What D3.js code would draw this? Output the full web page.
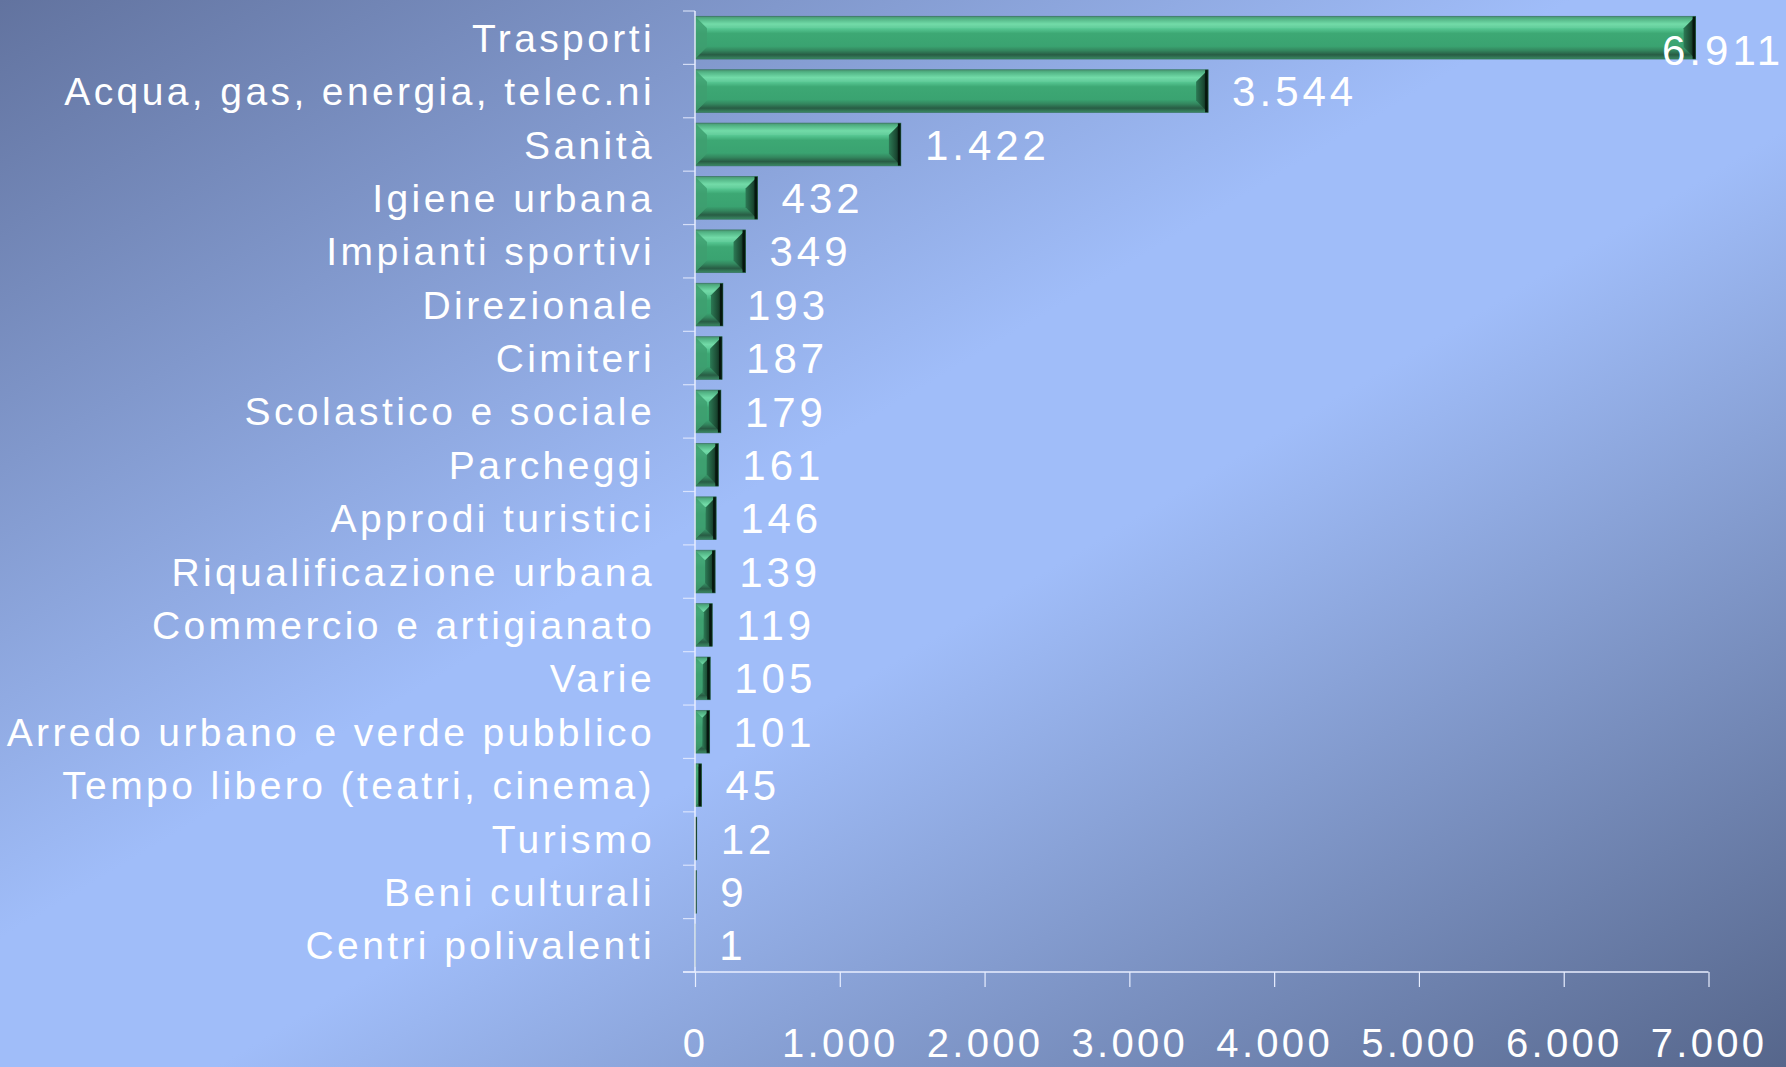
<!DOCTYPE html>
<html>
<head>
<meta charset="utf-8">
<script src="https://cdn.jsdelivr.net/npm/d3@7"></script>
<style>
  html, body { margin: 0; padding: 0; background: #8fa8e0; }
  svg { display: block; }
</style>
</head>
<body>
<script>
// ---- data ----
const categories = [
  "Trasporti",
  "Acqua, gas, energia, telec.ni",
  "Sanità",
  "Igiene urbana",
  "Impianti sportivi",
  "Direzionale",
  "Cimiteri",
  "Scolastico e sociale",
  "Parcheggi",
  "Approdi turistici",
  "Riqualificazione urbana",
  "Commercio e artigianato",
  "Varie",
  "Arredo urbano e verde pubblico",
  "Tempo libero (teatri, cinema)",
  "Turismo",
  "Beni culturali",
  "Centri polivalenti"
];
const values = [6911, 3544, 1422, 432, 349, 193, 187, 179, 161, 146, 139, 119, 105, 101, 45, 12, 9, 1];
const tickValues = [0, 1000, 2000, 3000, 4000, 5000, 6000, 7000];
const tickLabels = ["0", "1.000", "2.000", "3.000", "4.000", "5.000", "6.000", "7.000"];

// ---- layout ----
const W = 1786, H = 1067;
const plot = { left: 695, right: 1708.5, top: 11, bottom: 972 };
const fmt = v => d3.format(",")(v).replace(/,/g, ".");

const svg = d3.select("body").append("svg").attr("width", W).attr("height", H);
const defs = svg.append("defs");

// background gradient
const bg = defs.append("linearGradient").attr("id", "bg")
  .attr("x1", 0).attr("y1", 0).attr("x2", 1).attr("y2", 1);
bg.append("stop").attr("offset", 0).attr("stop-color", "#62739f");
bg.append("stop").attr("offset", 0.44).attr("stop-color", "#a0bdf9");
bg.append("stop").attr("offset", 0.56).attr("stop-color", "#a0bdf9");
bg.append("stop").attr("offset", 1).attr("stop-color", "#56668b");
svg.append("rect").attr("width", W).attr("height", H).attr("fill", "url(#bg)");

// bar face gradient (vertical)
const bf = defs.append("linearGradient").attr("id", "barFace")
  .attr("x1", 0).attr("y1", 0).attr("x2", 0).attr("y2", 1);
[[0, "#3f8f69"], [0.06, "#48b07e"], [0.18, "#6ad9a3"], [0.28, "#58c994"], [0.4, "#3da874"],
 [0.7, "#3aa371"], [0.8, "#33865e"], [0.9, "#285c44"], [1, "#3b8a64"]]
  .forEach(([o, c]) => bf.append("stop").attr("offset", o).attr("stop-color", c));

// right bevel gradient (horizontal)
const rb = defs.append("linearGradient").attr("id", "barRight")
  .attr("x1", 0).attr("y1", 0).attr("x2", 1).attr("y2", 0);
rb.append("stop").attr("offset", 0).attr("stop-color", "#2c7a55");
rb.append("stop").attr("offset", 0.6).attr("stop-color", "#1b4a33");
rb.append("stop").attr("offset", 1).attr("stop-color", "#071a10");

const x = d3.scaleLinear().domain([0, 7000]).range([plot.left, plot.right]);
const y = d3.scaleBand().domain(categories).range([plot.top, plot.bottom])
  .paddingInner(0.2).paddingOuter(0.1);

const data = categories.map((c, i) => ({ cat: c, v: values[i] }));

// ---- bars ----
const bars = svg.append("g").selectAll("g").data(data).join("g");
bars.each(function (d) {
  const g = d3.select(this);
  const x0 = x(0), x1 = x(d.v), y0 = y(d.cat), h = y.bandwidth(), y1 = y0 + h;
  const w = x1 - x0;
  const b = Math.min(12, w / 2, h / 2);
  g.append("rect").attr("x", x0).attr("y", y0).attr("width", w).attr("height", h)
    .attr("fill", "url(#barFace)");
  // left bevel
  g.append("polygon")
    .attr("points", [[x0, y0], [x0 + b, y0 + b], [x0 + b, y1 - b], [x0, y1]].join(" "))
    .attr("fill", "#3e9f70").attr("opacity", 0.85);
  // top bevel highlight
  g.append("polygon")
    .attr("points", [[x0, y0], [x0 + b, y0 + b], [x1 - b, y0 + b], [x1, y0]].join(" "))
    .attr("fill", "#ffffff").attr("opacity", 0.06);
  // right bevel
  g.append("polygon")
    .attr("points", [[x1, y0], [x1 - b, y0 + b], [x1 - b, y1 - b], [x1, y1]].join(" "))
    .attr("fill", "url(#barRight)");
  // very dark right edge
  g.append("rect").attr("x", x1 - Math.min(3, w)).attr("y", y0)
    .attr("width", Math.min(3, w)).attr("height", h).attr("fill", "#06170e");
  // outline
  g.append("rect").attr("x", x0).attr("y", y0).attr("width", w).attr("height", h)
    .attr("fill", "none").attr("stroke", "#2a6b4c").attr("stroke-width", 0.8)
    .attr("stroke-opacity", 0.7);
});

// ---- axes ----
const axisColor = "#e8eeff";
const ax = svg.append("g");
ax.append("line").attr("x1", plot.left).attr("x2", plot.left)
  .attr("y1", plot.top).attr("y2", plot.bottom)
  .attr("stroke", axisColor).attr("stroke-width", 1.5);
const boundaries = d3.range(categories.length + 1).map(i => plot.top + i * y.step());
ax.selectAll("line.yt").data(boundaries).join("line").attr("class", "yt")
  .attr("x1", plot.left - 12).attr("x2", plot.left)
  .attr("y1", d => d).attr("y2", d => d)
  .attr("stroke", axisColor).attr("stroke-width", 1.2).attr("stroke-opacity", 0.8);

const xAxis = d3.axisBottom(x).tickValues(tickValues)
  .tickFormat((d, i) => tickLabels[i]).tickSize(15).tickSizeOuter(0).tickPadding(60);
const xg = svg.append("g").attr("transform", `translate(0,${plot.bottom})`).call(xAxis);
xg.select(".domain").attr("stroke", axisColor).attr("stroke-width", 1.5)
  .attr("d", `M${plot.left - 12},0H${plot.right}`);
xg.selectAll(".tick line").attr("stroke", axisColor).attr("stroke-width", 1.2);
xg.selectAll(".tick text")
  .attr("fill", "#ffffff")
  .attr("font-family", "'Liberation Sans', Arial, sans-serif")
  .attr("font-size", 40)
  .attr("letter-spacing", 3.3)
  .attr("dy", 0)
  .attr("y", 85);

// ---- category labels ----
svg.append("g").selectAll("text").data(data).join("text")
  .attr("x", 655)
  .attr("y", d => y(d.cat) + y.bandwidth() / 2)
  .attr("dy", "0.36em")
  .attr("text-anchor", "end")
  .attr("fill", "#ffffff")
  .attr("font-family", "'Liberation Sans', Arial, sans-serif")
  .attr("font-size", 39)
  .attr("letter-spacing", 3.4)
  .text(d => d.cat);

// ---- value labels ----
const vl = svg.append("g").selectAll("text").data(data).join("text")
  .attr("fill", "#ffffff")
  .attr("font-family", "'Liberation Sans', Arial, sans-serif")
  .attr("font-size", 42)
  .attr("letter-spacing", 4)
  .attr("dy", "0.36em")
  .text(d => fmt(d.v));
vl.each(function (d) {
  const t = d3.select(this);
  const tw = this.getComputedTextLength();
  let lx = x(d.v) + 24;
  let ly = y(d.cat) + y.bandwidth() / 2;
  if (lx + tw > W - 2) { lx = W - 2 - tw; ly += 12; }
  t.attr("x", lx).attr("y", ly);
});
</script>
</body>
</html>
